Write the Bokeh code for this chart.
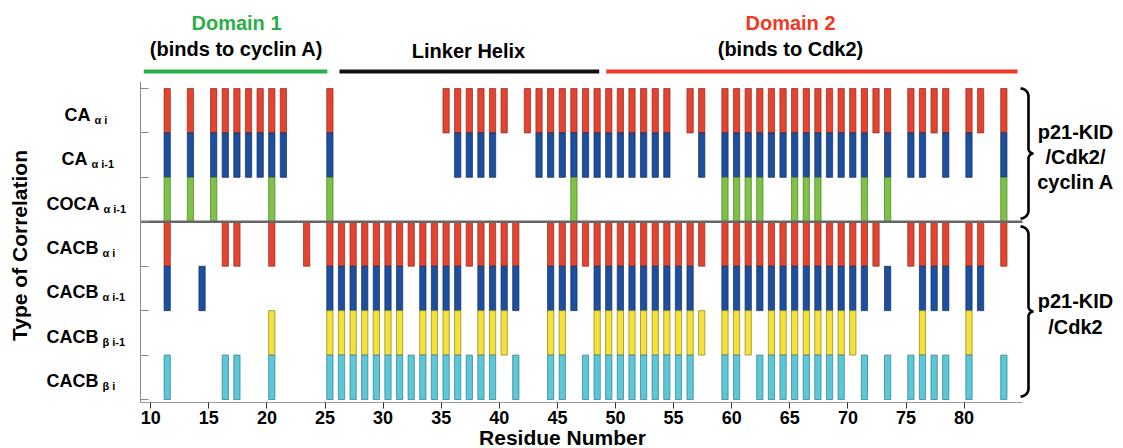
import numpy as np
from bokeh.plotting import figure
from bokeh.models import ColumnDataSource, Range1d, FixedTicker
from bokeh.core.properties import value
from bokeh.transform import dodge
from bokeh.embed import file_html
from bokeh.resources import INLINE

# ---------------- data ----------------
x_ticks = [10, 15, 20, 25, 30, 35, 40, 45, 50, 55, 60, 65, 70, 75, 80]

row_main = ["CA", "CA", "COCA", "CACB", "CACB", "CACB", "CACB"]
row_sub = ["\u03b1 i", "\u03b1 i-1", "\u03b1 i-1", "\u03b1 i", "\u03b1 i-1", "\u03b2 i-1", "\u03b2 i"]

ca_ai = [11, 13, 15, 16, 17, 18, 19, 20, 21, 25, 35, 36, 37, 38, 39, 40, 42, 43, 44, 45,
         46, 47, 48, 49, 50, 51, 52, 53, 54, 56, 57, 59, 60, 61, 62, 63, 64, 65, 66, 67,
         68, 69, 70, 71, 72, 73, 75, 76, 77, 78, 80, 81, 83]
ca_ai1 = [11, 13, 15, 16, 17, 18, 19, 20, 21, 25, 36, 37, 38, 39, 43, 44, 45, 46, 47, 48,
          49, 50, 51, 52, 53, 54, 57, 59, 60, 61, 62, 63, 64, 65, 66, 67, 68, 69, 70, 71,
          73, 75, 76, 78, 80, 83]
coca_ai1 = [11, 13, 15, 20, 25, 46, 59, 60, 61, 62, 65, 66, 67, 71, 73, 83]
cacb_ai = [11, 16, 17, 20, 23, 25, 26, 27, 28, 29, 30, 31, 32, 33, 34, 35, 36, 37, 38, 39,
           40, 41, 44, 45, 46, 47, 48, 49, 50, 51, 52, 53, 54, 55, 56, 57, 59, 60, 61, 62,
           63, 64, 65, 66, 67, 68, 69, 70, 71, 72, 75, 76, 77, 78, 80, 81, 83]
cacb_ai1 = [11, 14, 25, 26, 27, 28, 29, 30, 31, 33, 34, 35, 36, 38, 39, 40, 41, 44, 45, 46,
            48, 49, 50, 51, 52, 53, 54, 55, 56, 59, 60, 61, 62, 63, 64, 65, 66, 67, 68, 69,
            70, 71, 73, 76, 77, 78, 80, 81]
cacb_bi1 = [20, 25, 26, 27, 28, 29, 30, 31, 33, 34, 35, 36, 38, 39, 40, 44, 45, 48, 49, 50,
            51, 52, 53, 54, 55, 56, 57, 59, 60, 61, 63, 64, 65, 66, 67, 68, 69, 70, 76, 80]
cacb_bi = [11, 16, 17, 20, 25, 26, 27, 28, 29, 30, 31, 32, 33, 34, 35, 36, 37, 38, 39, 41,
           44, 45, 47, 48, 49, 50, 51, 52, 53, 54, 55, 56, 59, 60, 62, 63, 64, 65, 66, 67,
           68, 69, 71, 73, 75, 76, 77, 78, 80, 83]
rows_data = [ca_ai, ca_ai1, coca_ai1, cacb_ai, cacb_ai1, cacb_bi1, cacb_bi]

domain_names = ["Domain 1", "", "Domain 2"]
domain_desc = ["(binds to cyclin A)", "Linker Helix", "(binds to Cdk2)"]
domain_start = [9.4, 26.25, 49.2]
domain_end = [25.2, 48.6, 84.6]

group_labels = [["p21-KID", "/Cdk2/", "cyclin A"], ["p21-KID", "/Cdk2"]]

# ---------------- styles ----------------
fill_cols = ["#E4432F", "#1D4F9E", "#7DC245", "#E4432F", "#1D4F9E", "#F4E23A", "#5CC7D7"]
line_cols = ["#8a2a1e", "#102c5a", "#4a7a28", "#8a2a1e", "#102c5a", "#8a7f1e", "#2f7b86"]
domain_cols = ["#2BAE48", "#111111", "#EE3A24"]
FONT = "Liberation Sans"
W, H = 1123, 448

# page-pixel -> data helpers (layout only)
def px2x(px):
    return (px - 34.0) / 11.62

def py2y(py):
    return 7 - (py - 88.0) / 44.43

p = figure(width=W, height=H, output_backend="svg", toolbar_location=None,
           x_range=Range1d(px2x(0), px2x(W)), y_range=Range1d(py2y(H), py2y(0)),
           min_border_left=0, min_border_right=0, min_border_top=0,
           min_border_bottom=0, title=None)
p.outline_line_color = None
p.grid.visible = False
p.background_fill_color = "white"

# bars
n = len(rows_data)
for i, res in enumerate(rows_data):
    src = ColumnDataSource(dict(res=res, bottom=[n - 1 - i] * len(res), top=[n - i] * len(res)))
    p.vbar(x=dodge("res", 0.42, range=p.x_range), width=0.54, bottom="bottom", top="top",
           source=src, fill_color=fill_cols[i], line_color=line_cols[i], line_width=0.7)

X0, X1 = px2x(140), px2x(1022)
Y0, Y1 = py2y(402), py2y(81)

# separator between complexes
p.segment(x0=[X0], y0=[4], x1=[X1], y1=[4], line_color="#666666", line_width=2.5)

# axes (fixed inside the frame)
xa = p.xaxis[0]
xa.fixed_location = Y0
xa.bounds = (X0, X1)
xa.ticker = FixedTicker(ticks=x_ticks)
xa.minor_tick_line_color = None
xa.major_tick_in = 0
xa.major_tick_out = 6
xa.major_tick_line_color = "#333333"
xa.axis_line_color = "#9a9a9a"
xa.major_label_standoff = 2
xa.major_label_text_font = FONT
xa.major_label_text_font_style = "bold"
xa.major_label_text_font_size = "18px"
xa.major_label_text_color = "black"

ya = p.yaxis[0]
ya.fixed_location = X0
ya.bounds = (Y0, Y1)
ya.ticker = FixedTicker(ticks=list(range(n + 1)))
ya.minor_tick_line_color = None
ya.major_tick_in = 8
ya.major_tick_out = 0
ya.major_tick_line_color = "#888888"
ya.axis_line_color = "#888888"
ya.major_label_overrides = {i: "" for i in range(n + 1)}

def txt(x, y, t, size, color="black", align="center", baseline="middle", angle=0.0):
    p.text(x=[x], y=[y], text=[t], angle=angle, text_align=align, text_baseline=baseline,
           text_font=value(FONT), text_font_style="bold", text_font_size=size,
           text_color=color)

# axis titles
txt(px2x(562), py2y(437), "Residue Number", "21px")
txt(px2x(19), py2y(245), "Type of Correlation", "21px", angle=np.pi / 2)

# row labels
cw = {"C": 0.722, "A": 0.722, "O": 0.778, "B": 0.722}
main_left = [64, 61, 46, 46, 46, 46, 46]
for i in range(n):
    yc = 88 + 44.43 * (i + 0.5)
    txt(px2x(main_left[i]), py2y(yc + 4), row_main[i], "18px", align="left",
        baseline="alphabetic")
    wmain = sum(cw[c] for c in row_main[i]) * 18
    txt(px2x(main_left[i] + wmain + 4), py2y(yc + 9), row_sub[i], "11px", align="left",
        baseline="alphabetic")

# domain bars and titles
for k in range(3):
    p.segment(x0=[domain_start[k]], y0=[py2y(71)], x1=[domain_end[k]], y1=[py2y(71)],
              line_color=domain_cols[k], line_width=4)
    xc = px2x([236, 468, 790][k])
    if domain_names[k]:
        txt(xc, py2y(22), domain_names[k], "20px", color=domain_cols[k])
    txt(xc, py2y(48 if k != 1 else 50), domain_desc[k], "20px")

# curly braces
def brace(x0, ytop, ybot, r=8.0, rt=5.0):
    x1 = x0 + r
    ymid = (ytop + ybot) / 2
    t = np.linspace(0, np.pi / 2, 12)
    pts = []
    pts += list(zip(x0 + r * np.sin(t), ytop + r - r * np.cos(t)))
    pts += list(zip(x1 + rt - rt * np.cos(t), ymid - rt + rt * np.sin(t)))
    pts += list(zip(x1 + rt - rt * np.sin(t), ymid + rt - rt * np.cos(t)))
    pts += list(zip(x0 + r * np.cos(t), ybot - r + r * np.sin(t)))
    a = np.array(pts)
    return [px2x(v) for v in a[:, 0]], [py2y(v) for v in a[:, 1]]

brace_spans = [(88, 218), (226, 396)]
for (yt, yb) in brace_spans:
    bx, by = brace(1020, yt, yb)
    p.line(bx, by, line_color="black", line_width=2.6)

label_y = [[131, 156, 181], [300, 326]]
for g in range(2):
    for j, t in enumerate(group_labels[g]):
        txt(px2x(1075), py2y(label_y[g][j]), t, "20px")

open("out.html", "w").write(file_html(p, INLINE))
